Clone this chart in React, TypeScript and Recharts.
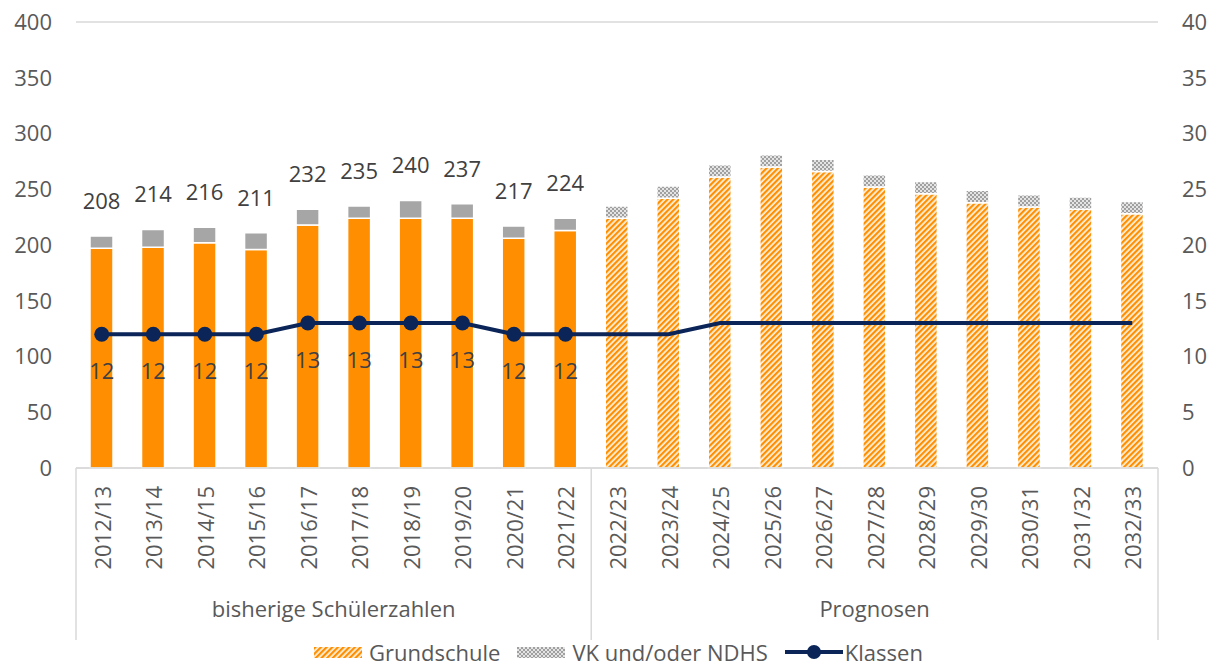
import React from "react";
import {
  ComposedChart,
  Bar,
  Line,
  XAxis,
  YAxis,
  CartesianGrid,
  Cell,
  LabelList,
  Legend,
} from "recharts";

const categories = [
  "2012/13", "2013/14", "2014/15", "2015/16", "2016/17", "2017/18", "2018/19",
  "2019/20", "2020/21", "2021/22", "2022/23", "2023/24", "2024/25", "2025/26",
  "2026/27", "2027/28", "2028/29", "2029/30", "2030/31", "2031/32", "2032/33",
];
const grundschule = [197, 198, 202, 196, 218, 224, 224, 224, 206, 213, 224, 242, 261, 270, 266, 252, 246, 238, 234, 232, 228];
const vkNdhs = [11, 16, 14, 15, 14, 11, 16, 13, 11, 11, 11, 11, 11, 11, 11, 11, 11, 11, 11, 11, 11];
const klassen = [12, 12, 12, 12, 13, 13, 13, 13, 12, 12, 12, 12, 13, 13, 13, 13, 13, 13, 13, 13, 13];
const groups = [
  { name: "bisherige Schülerzahlen", from: 0, to: 9 },
  { name: "Prognosen", from: 10, to: 20 },
];
const HIST = 10; // erste 10 Jahre = Ist-Werte
const leftTicks = [0, 50, 100, 150, 200, 250, 300, 350, 400];
const rightTicks = [0, 5, 10, 15, 20, 25, 30, 35, 40];

const W = 1215;
const H = 668;
const Y_LEFT_W = 76;
const Y_RIGHT_W = 57;
const BAND = (W - Y_LEFT_W - Y_RIGHT_W) / categories.length;

const ORANGE = "#FF8F00";
const GREY = "#A6A6A6";
const NAVY = "#0B2559";
const FONT = "'Open Sans', 'Noto Sans', sans-serif";
const AXIS_TXT = "#595959";
const LABEL_TXT = "#404040";
const FS = 22;

const data = categories.map((c, i) => ({
  jahr: c,
  grundschule: grundschule[i],
  vk: vkNdhs[i],
  klassen: klassen[i],
  total: i < HIST ? grundschule[i] + vkNdhs[i] : null,
  klassenLabel: i < HIST ? klassen[i] : null,
}));

function CategoryTick(props: any) {
  const { x, y, payload } = props;
  const idx = categories.indexOf(payload.value);
  const half = BAND / 2;
  const start = groups.find((g) => g.from === idx);
  return (
    <g>
      <text
        x={x}
        y={y + 18}
        transform={`rotate(-90, ${x}, ${y + 18})`}
        textAnchor="end"
        dominantBaseline="central"
        fill={AXIS_TXT}
        fontSize={FS}
        fontFamily={FONT}
      >
        {payload.value}
      </text>
      {start && (
        <>
          <line x1={x - half} x2={x - half} y1={y} y2={y + 172} stroke="#D9D9D9" strokeWidth={1.5} />
          <text
            x={x + ((start.to - start.from) / 2) * BAND}
            y={y + 140}
            textAnchor="middle"
            dominantBaseline="central"
            fill={AXIS_TXT}
            fontSize={FS}
            fontFamily={FONT}
          >
            {start.name}
          </text>
        </>
      )}
      {idx === categories.length - 1 && (
        <line x1={x + half} x2={x + half} y1={y} y2={y + 172} stroke="#D9D9D9" strokeWidth={1.5} />
      )}
    </g>
  );
}

const renderTotal = (props: any) => {
  const { x, y, width, value } = props;
  if (value == null) return null;
  return (
    <text
      x={x + width / 2}
      y={y - 36}
      textAnchor="middle"
      dominantBaseline="central"
      fill={LABEL_TXT}
      fontSize={FS}
      fontFamily={FONT}
    >
      {value}
    </text>
  );
};

const renderKlassenLabel = (props: any) => {
  const { x, y, value } = props;
  if (value == null) return null;
  return (
    <text
      x={x}
      y={y + 36}
      textAnchor="middle"
      dominantBaseline="central"
      fill={LABEL_TXT}
      fontSize={FS}
      fontFamily={FONT}
    >
      {value}
    </text>
  );
};

const renderDot = (props: any) => {
  const { cx, cy, index } = props;
  if (index >= HIST) return <g key={`d-${index}`} />;
  return <circle key={`d-${index}`} cx={cx} cy={cy} r={7.5} fill={NAVY} />;
};

function LegendContent() {
  const item = { display: "flex", alignItems: "center", marginRight: 17 } as const;
  return (
    <div
      style={{
        display: "flex",
        justifyContent: "center",
        alignItems: "center",
        fontFamily: FONT,
        fontSize: FS,
        lineHeight: "20px",
        height: 20,
        marginTop: -2,
        color: AXIS_TXT,
        paddingLeft: 22,
      }}
    >
      <div style={item}>
        <svg width={48} height={11} style={{ marginRight: 7 }}>
          <rect width={48} height={11} fill="url(#hatchOrange)" />
        </svg>
        Grundschule
      </div>
      <div style={item}>
        <svg width={48} height={11} style={{ marginRight: 7 }}>
          <rect width={48} height={11} fill="url(#dotGrey)" />
        </svg>
        VK und/oder NDHS
      </div>
      <div style={{ ...item, marginRight: 0 }}>
        <svg width={58} height={20} style={{ marginRight: 2 }}>
          <line x1={0} x2={58} y1={10} y2={10} stroke={NAVY} strokeWidth={4} />
          <circle cx={29} cy={10} r={7} fill={NAVY} />
        </svg>
        Klassen
      </div>
    </div>
  );
}

export default function App() {
  return (
    <div style={{ position: "absolute", left: 0, top: 0, background: "#fff" }}>
      <ComposedChart
        width={W}
        height={H}
        data={data}
        margin={{ top: 22, right: 0, bottom: 0, left: 0 }}
        barSize={23}
      >
        <defs>
          <pattern id="hatchOrange" width={4} height={4} patternUnits="userSpaceOnUse" patternTransform="rotate(45)">
            <rect width={4} height={4} fill="#FFF1DE" />
            <rect width={2.2} height={4} fill={ORANGE} />
          </pattern>
          <pattern id="dotGrey" width={4} height={4} patternUnits="userSpaceOnUse">
            <rect width={4} height={4} fill="#E4E4E4" />
            <rect width={2} height={2} fill="#A0A0A0" />
            <rect x={2} y={2} width={2} height={2} fill="#A0A0A0" />
          </pattern>
        </defs>
        <CartesianGrid vertical={false} stroke="#D9D9D9" strokeWidth={1.5} />
        <XAxis
          dataKey="jahr"
          interval={0}
          height={176}
          tickLine={false}
          tickSize={0}
          tickMargin={0}
          axisLine={{ stroke: "#D9D9D9", strokeWidth: 1.5 }}
          tick={<CategoryTick />}
        />
        <YAxis
          yAxisId="l"
          width={Y_LEFT_W}
          domain={[0, 400]}
          ticks={leftTicks}
          axisLine={false}
          tickLine={false}
          tickMargin={18}
          tick={{ fill: AXIS_TXT, fontSize: FS, fontFamily: FONT }}
        />
        <YAxis
          yAxisId="r"
          orientation="right"
          width={Y_RIGHT_W}
          domain={[0, 40]}
          ticks={rightTicks}
          axisLine={false}
          tickLine={false}
          tickMargin={18}
          tick={{ fill: AXIS_TXT, fontSize: FS, fontFamily: FONT }}
        />
        <Legend verticalAlign="bottom" height={24} content={<LegendContent />} />
        <Bar yAxisId="l" dataKey="grundschule" name="Grundschule" stackId="s" stroke="#fff" strokeWidth={1.5} isAnimationActive={false}>
          {data.map((d, i) => (
            <Cell key={`g-${i}`} fill={i < HIST ? ORANGE : "url(#hatchOrange)"} />
          ))}
        </Bar>
        <Bar yAxisId="l" dataKey="vk" name="VK und/oder NDHS" stackId="s" stroke="#fff" strokeWidth={1.5} isAnimationActive={false}>
          {data.map((d, i) => (
            <Cell key={`v-${i}`} fill={i < HIST ? GREY : "url(#dotGrey)"} />
          ))}
          <LabelList dataKey="total" content={renderTotal} />
        </Bar>
        <Line
          yAxisId="r"
          dataKey="klassen"
          name="Klassen"
          stroke={NAVY}
          strokeWidth={4}
          dot={renderDot}
          activeDot={false}
          isAnimationActive={false}
        >
          <LabelList dataKey="klassenLabel" content={renderKlassenLabel} />
        </Line>
      </ComposedChart>
    </div>
  );
}
